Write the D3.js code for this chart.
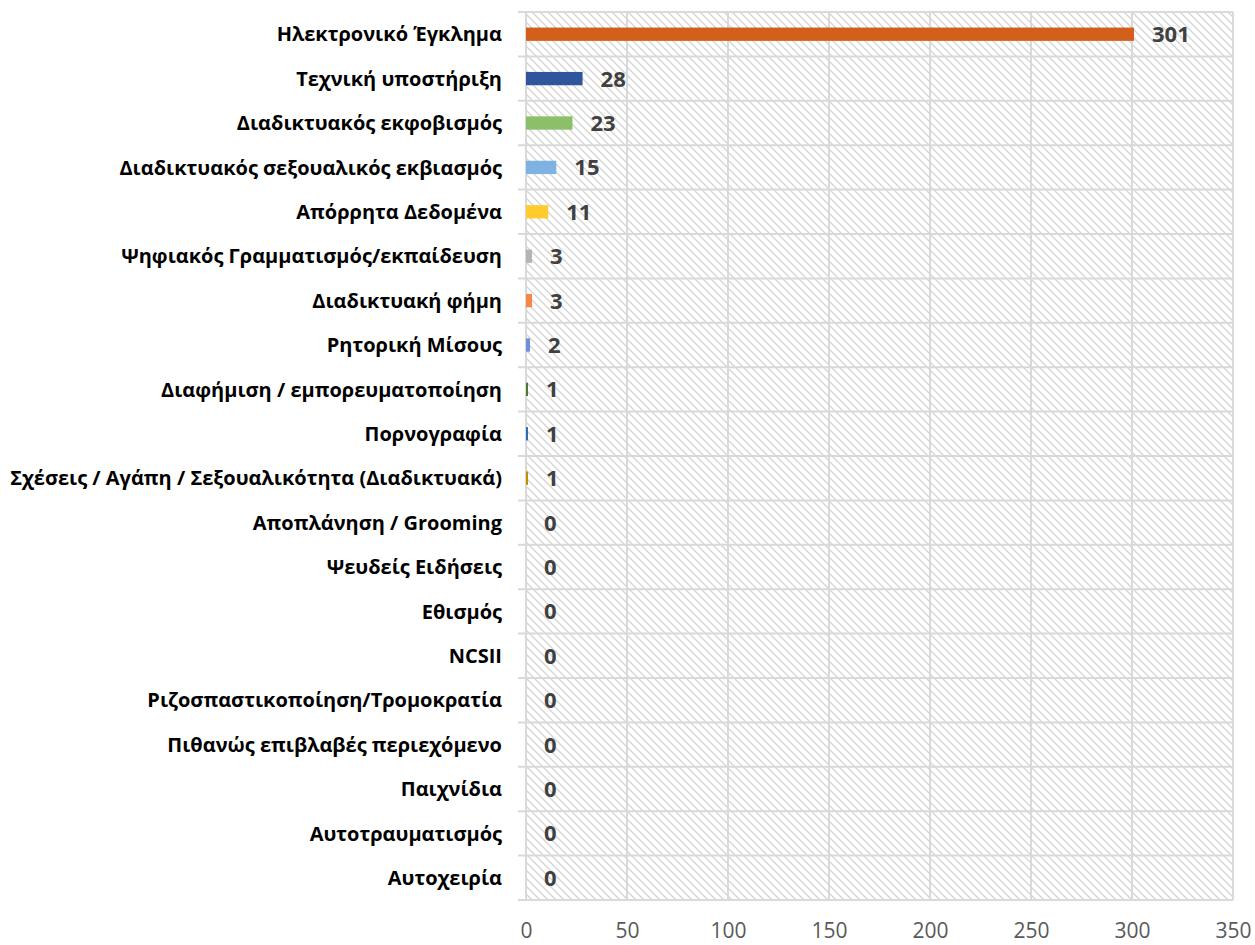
<!DOCTYPE html>
<html>
<head>
<meta charset="utf-8">
<script src="https://cdn.jsdelivr.net/npm/d3@7"></script>
<style>
  html, body { margin: 0; padding: 0; background: #fff; overflow: hidden; }
  svg { display: block; }
</style>
</head>
<body>
<div id="chart"></div>
<script>
const categories = [
  "Ηλεκτρονικό Έγκλημα",
  "Τεχνική υποστήριξη",
  "Διαδικτυακός εκφοβισμός",
  "Διαδικτυακός σεξουαλικός εκβιασμός",
  "Απόρρητα Δεδομένα",
  "Ψηφιακός Γραμματισμός/εκπαίδευση",
  "Διαδικτυακή φήμη",
  "Ρητορική Μίσους",
  "Διαφήμιση / εμπορευματοποίηση",
  "Πορνογραφία",
  "Σχέσεις / Αγάπη / Σεξουαλικότητα (Διαδικτυακά)",
  "Αποπλάνηση / Grooming ",
  "Ψευδείς Ειδήσεις",
  "Εθισμός",
  "NCSII",
  "Ριζοσπαστικοποίηση/Τρομοκρατία",
  "Πιθανώς επιβλαβές περιεχόμενο ",
  "Παιχνίδια",
  "Αυτοτραυματισμός",
  "Αυτοχειρία"
];
const values = [301, 28, 23, 15, 11, 3, 3, 2, 1, 1, 1, 0, 0, 0, 0, 0, 0, 0, 0, 0];
const barColors = [
  "#D2601A", "#2F559C", "#8CC068", "#7FB1E2", "#FFCB2F", "#B4B4B4",
  "#F4884A", "#6A92D4", "#4E7A30", "#2E6DB0", "#BF9000",
  "#D2601A", "#2F559C", "#8CC068", "#7FB1E2", "#FFCB2F", "#B4B4B4",
  "#F4884A", "#6A92D4", "#4E7A30"
];
const xTicks = [0, 50, 100, 150, 200, 250, 300, 350];

(function () {
const W = 1255, H = 945;
const pLeft = 526, pRight = 1233, pTop = 12, pBottom = 900;

const svg = d3.select("#chart").append("svg")
  .attr("width", W).attr("height", H);

const defs = svg.append("defs");
const pat = defs.append("pattern")
  .attr("id", "hatch")
  .attr("patternUnits", "userSpaceOnUse")
  .attr("width", 8).attr("height", 8);
pat.append("rect").attr("width", 8).attr("height", 8).attr("fill", "#fff");
pat.append("path")
  .attr("d", "M-1,-1 L9,9 M-9,-1 L1,9 M7,-1 L17,9")
  .attr("stroke", "#d4d4d4").attr("stroke-width", 1.3);

const x = d3.scaleLinear().domain([0, 350]).range([pLeft, pRight]);
const y = d3.scaleBand().domain(categories).range([pTop, pBottom])
  .paddingInner(0.7).paddingOuter(0.35);

svg.append("rect")
  .attr("x", pLeft).attr("y", pTop)
  .attr("width", pRight - pLeft).attr("height", pBottom - pTop)
  .attr("fill", "url(#hatch)");

const gridColor = "#d9d9d9";
svg.append("g").selectAll("line").data(xTicks).join("line")
  .attr("x1", d => x(d)).attr("x2", d => x(d))
  .attr("y1", pTop).attr("y2", pBottom)
  .attr("stroke", gridColor).attr("stroke-width", 2);

const step = y.step();
const bounds = d3.range(categories.length + 1).map(i => pTop + i * step);
svg.append("g").selectAll("line").data(bounds).join("line")
  .attr("x1", pLeft - 8).attr("x2", pRight)
  .attr("y1", d => d).attr("y2", d => d)
  .attr("stroke", gridColor).attr("stroke-width", 2);

svg.append("g").selectAll("rect").data(values).join("rect")
  .attr("x", x(0))
  .attr("y", (d, i) => y(categories[i]))
  .attr("width", d => x(d) - x(0))
  .attr("height", y.bandwidth())
  .attr("fill", (d, i) => barColors[i]);

svg.append("g").selectAll("text").data(values).join("text")
  .attr("x", d => x(d) + 18)
  .attr("y", (d, i) => y(categories[i]) + y.bandwidth() / 2)
  .attr("dy", "0.36em")
  .attr("font-family", "'Open Sans', sans-serif")
  .attr("font-weight", "bold")
  .attr("font-size", 22)
  .attr("fill", "#404040")
  .text(d => d);

const catText = svg.append("g").selectAll("text").data(categories).join("text")
  .attr("x", 502)
  .attr("y", d => y(d) + y.bandwidth() / 2)
  .attr("dy", "0.36em")
  .attr("text-anchor", "end")
  .attr("font-family", "'Open Sans', sans-serif")
  .attr("font-weight", "bold")
  .attr("font-size", 18)
  .attr("fill", "#000")
  .text(d => d);
let maxW = 0;
catText.each(function() { maxW = Math.max(maxW, this.getComputedTextLength()); });
catText.attr("font-size", 18 * 492 / maxW);

const xAxis = d3.axisBottom(x).tickValues(xTicks).tickSize(0).tickPadding(0);
const ax = svg.append("g").attr("transform", `translate(0,${pBottom})`).call(xAxis);
ax.select(".domain").remove();
ax.selectAll("text")
  .attr("y", 30).attr("dy", "0.36em")
  .attr("font-family", "'Open Sans', sans-serif")
  .attr("font-size", 21)
  .attr("fill", "#595959");
})();
</script>
</body>
</html>
